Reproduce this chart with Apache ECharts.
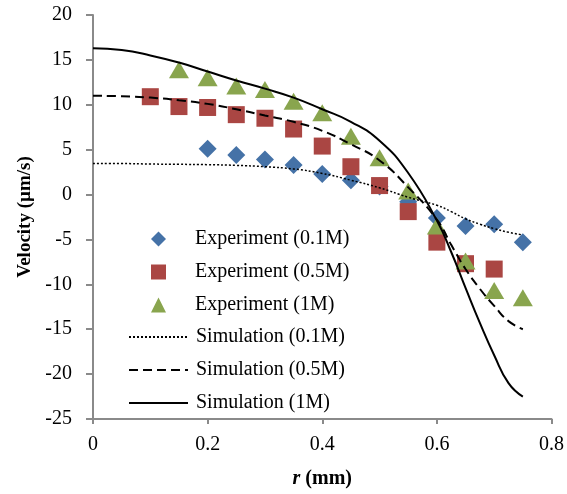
<!DOCTYPE html>
<html>
<head>
    <meta charset="utf-8">
    <title>Velocity profile</title>
    <script src="https://cdn.jsdelivr.net/npm/echarts@6/dist/echarts.min.js"></script>
</head>
<body style="margin:0">

<style>
	#chart {
		width: 567px;
		height: 494px;
	}
</style>

    <div id="chart"></div>

    <script type="text/javascript">
// measured points (r in mm, velocity in um/s)
var rExp01 = [0.2, 0.25, 0.3, 0.35, 0.4, 0.45, 0.5, 0.55, 0.6, 0.65, 0.7, 0.75];
var vExp01 = [5.1, 4.4, 3.9, 3.3, 2.3, 1.6, 0.9, -0.8, -2.6, -3.5, -3.3, -5.3];

var rExp05 = [0.1, 0.15, 0.2, 0.25, 0.3, 0.35, 0.4, 0.45, 0.5, 0.55, 0.6, 0.65, 0.7];
var vExp05 = [10.9, 9.8, 9.7, 8.9, 8.5, 7.3, 5.4, 3.1, 1.0, -1.9, -5.3, -7.7, -8.3];

var rExp1 = [0.15, 0.2, 0.25, 0.3, 0.35, 0.4, 0.45, 0.5, 0.55, 0.6, 0.65, 0.7, 0.75];
var vExp1 = [13.9, 13.0, 12.1, 11.7, 10.4, 9.1, 6.5, 4.1, 0.4, -3.5, -7.4, -10.7, -11.5];

// simulation curves
var rSim = [0, 0.05, 0.1, 0.15, 0.2, 0.25, 0.3, 0.35, 0.4, 0.45, 0.5, 0.55, 0.6, 0.625, 0.65, 0.675, 0.7, 0.725, 0.75];
var vSim01 = [3.45, 3.45, 3.4, 3.37, 3.33, 3.25, 3.1, 2.85, 2.35, 1.6, 0.75, -0.3, -1.2, -1.9, -2.7, -3.3, -3.8, -4.2, -4.5];
var vSim05 = [11.0, 10.95, 10.8, 10.5, 10.1, 9.5, 8.8, 8.1, 7.1, 5.6, 3.8, 0.8, -2.8, -5.6, -8.3, -10.5, -12.4, -14.1, -15.0];
var vSim1 = [16.3, 16.1, 15.5, 14.7, 13.7, 12.7, 11.8, 10.8, 9.5, 8.1, 6.0, 2.4, -2.9, -6.4, -10.4, -14.3, -17.9, -21.0, -22.5];

var expNames = ['Experiment (0.1M)', 'Experiment (0.5M)', 'Experiment (1M)'];
var simNames = ['Simulation (0.1M)', 'Simulation (0.5M)', 'Simulation (1M)'];

function pairs(xs, ys) {
    var out = [];
    for (var i = 0; i < xs.length; ++i) {
        out.push([xs[i], ys[i]]);
    }
    return out;
}

var font = 'Liberation Serif';
var axisColor = '#8a8a8a';

var chart = echarts.init(document.getElementById('chart'));

option = {
    animation: false,
    grid: { left: 93, right: 15, top: 15, bottom: 71 },
    legend: [
        {
            data: expNames,
            orient: 'vertical',
            left: 151, top: 229, padding: 0,
            itemWidth: 15, itemHeight: 15, itemGap: 13,
            textStyle: { fontFamily: font, fontSize: 20, color: '#000', lineHeight: 20, padding: [0, 0, 0, 24] }
        },
        {
            data: simNames,
            orient: 'vertical',
            left: 128, top: 327, padding: 0,
            itemWidth: 59, itemHeight: 14, itemGap: 13,
            itemStyle: { opacity: 0, borderWidth: 0 },  // hide the circle, keep the line
            textStyle: { fontFamily: font, fontSize: 20, color: '#000', lineHeight: 20, padding: [0, 0, 0, 3] }
        }
    ],
    xAxis: {
        type: 'value',
        min: 0, max: 0.8, interval: 0.2,
        name: '{i|r} (mm)',
        nameLocation: 'middle',
        nameGap: 50,
        nameTextStyle: {
            fontFamily: font, fontSize: 20, fontWeight: 'bold', color: '#000',
            rich: { i: { fontFamily: font, fontSize: 20, fontWeight: 'bold', fontStyle: 'italic', color: '#000' } }
        },
        axisLine: { onZero: false, lineStyle: { color: axisColor, width: 2 } },
        axisTick: { length: 5, lineStyle: { color: axisColor, width: 2 } },
        axisLabel: { fontFamily: font, fontSize: 20, color: '#000', margin: 16 },
        splitLine: { show: false }
    },
    yAxis: {
        type: 'value',
        min: -25, max: 20, interval: 5,
        name: 'Velocity (µm/s)',
        nameLocation: 'middle',
        nameGap: 58,
        nameTextStyle: { fontFamily: font, fontSize: 19, fontWeight: 'bold', color: '#000' },
        axisLine: { onZero: false, lineStyle: { color: axisColor, width: 2 } },
        axisTick: { length: 7, lineStyle: { color: axisColor, width: 2 } },
        axisLabel: { fontFamily: font, fontSize: 20, color: '#000', margin: 21 },
        splitLine: { show: false }
    },
    series: [
        {
            name: expNames[0], type: 'scatter', symbol: 'diamond', symbolSize: 18,
            itemStyle: { color: '#4572A7', opacity: 1 },
            data: pairs(rExp01, vExp01)
        },
        {
            name: expNames[1], type: 'scatter', symbol: 'rect', symbolSize: 17,
            itemStyle: { color: '#AA4643', opacity: 1 },
            data: pairs(rExp05, vExp05)
        },
        {
            name: expNames[2], type: 'scatter', symbol: 'triangle', symbolSize: [20, 17],
            itemStyle: { color: '#89A54E', opacity: 1 },
            data: pairs(rExp1, vExp1)
        },
        {
            name: simNames[0], type: 'line', symbol: 'none', smooth: 0.5,
            itemStyle: { color: '#000' },
            lineStyle: { color: '#000', width: 1.5, type: [2, 2] },
            data: pairs(rSim, vSim01)
        },
        {
            name: simNames[1], type: 'line', symbol: 'none', smooth: 0.5,
            itemStyle: { color: '#000' },
            lineStyle: { color: '#000', width: 2, type: [9, 5] },
            data: pairs(rSim, vSim05)
        },
        {
            name: simNames[2], type: 'line', symbol: 'none', smooth: 0.5,
            itemStyle: { color: '#000' },
            lineStyle: { color: '#000', width: 2, type: 'solid' },
            data: pairs(rSim, vSim1)
        }
    ]
};

chart.setOption(option);
    </script>
</body>
</html>
